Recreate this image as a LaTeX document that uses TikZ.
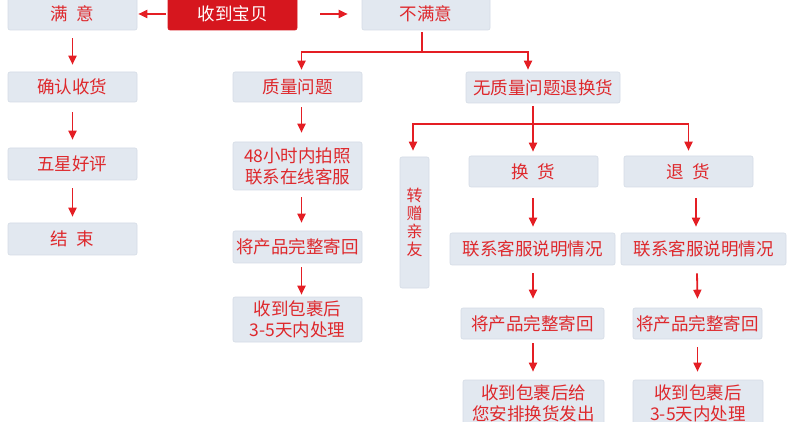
\documentclass[tikz,border=0pt]{standalone}
\usepackage{fontspec}
\newfontfamily\cjk{Noto Sans CJK SC}
\usetikzlibrary{arrows.meta,calc}
\definecolor{boxfill}{RGB}{226,232,240}
\definecolor{boxline}{RGB}{212,219,229}
\definecolor{txtred}{RGB}{222,40,44}
\definecolor{hdred}{RGB}{214,22,30}
\definecolor{arr}{RGB}{228,30,36}
\begin{document}
\begin{tikzpicture}[x=1pt,y=-1pt,
  box/.style={fill=boxfill, draw=boxline, line width=0.6pt, rounded corners=2pt,
    text=txtred, font=\cjk\fontsize{17.5}{21}\selectfont, inner sep=0pt,
    align=center, minimum width=#1},
  box/.default=129pt,
  hd/.style={box, fill=hdred, draw=hdred, text=white},
  arw/.style={draw=arr, line width=1.8pt, -{Triangle[width=8pt,length=9pt]}},
  lnk/.style={draw=arr, line width=1.8pt}
]
\useasboundingbox (0,0) rectangle (790,422);

\node[hd, minimum height=32pt] (shoudao) at (232.5,14) {收到宝贝};
\node[box, minimum height=32pt] (manyi) at (72.5,14) {满\hspace{0.5em}意};
\node[box=128pt, minimum height=32pt] (bumanyi) at (426,14) {不满意};
\node[box, minimum height=30pt] (queren) at (72.5,87) {确认收货};
\node[box, minimum height=32pt] (wuxing) at (72.5,164) {五星好评};
\node[box, minimum height=32pt] (jieshu) at (72.5,239) {结\hspace{0.5em}束};
\node[box, minimum height=30pt] (zhiliang) at (297.5,87) {质量问题};
\node[box=154pt, minimum height=31pt] (wuzl) at (543,87.5) {无质量问题退换货};
\node[box, minimum height=48pt] (pai) at (297.5,166) {48小时内拍照\\联系在线客服};
\node[box, minimum height=32pt] (jiang1) at (297.5,247) {将产品完整寄回};
\node[box, minimum height=45pt] (shou1) at (297.5,319.5) {收到包裹后\\3-5天内处理};
\node[box=29pt, minimum height=131pt, font=\cjk\fontsize{16}{18}\selectfont] (zhuan) at (414.5,222.5) {转\\赠\\亲\\友};
\node[box, minimum height=31pt] (huan) at (533.5,171.5) {换\hspace{0.5em}货};
\node[box, minimum height=31pt] (tui) at (688.5,171.5) {退\hspace{0.5em}货};
\node[box=165pt, minimum height=32pt] (lx1) at (532.5,249) {联系客服说明情况};
\node[box=165pt, minimum height=32pt] (lx2) at (703.5,249) {联系客服说明情况};
\node[box=143pt, minimum height=31pt] (jiang2) at (532.5,323.5) {将产品完整寄回};
\node[box, minimum height=31pt] (jiang3) at (697.5,323.5) {将产品完整寄回};
\node[box=141pt, minimum height=46pt] (shou2) at (533.5,403) {收到包裹后给\\您安排换货发出};
\node[box=130pt, minimum height=46pt] (shou3) at (698,403) {收到包裹后\\3-5天内处理};

% top row
\draw[arw] ([xshift=-2pt]shoudao.west) -- ([xshift=1pt]manyi.east);
\draw[arw] ([xshift=23pt]shoudao.east) -- ([xshift=-14pt]bumanyi.west);

% left column
\draw[arw] ([yshift=-8pt]manyi.south) -- ([yshift=7pt]queren.north);
\draw[arw] ([yshift=-10pt]queren.south) -- ([yshift=8pt]wuxing.north);
\draw[arw] ([yshift=-8pt]wuxing.south) -- ([yshift=6pt]jieshu.north);

% split from 不满意
\coordinate (j1) at ($(bumanyi.south)+(-4,22)$);
\draw[lnk] ([xshift=-4pt,yshift=-2pt]bumanyi.south) -- (j1);
\draw[arw] (j1) -| ([xshift=4pt,yshift=2pt]zhiliang.north);
\draw[arw] (j1) -| ([xshift=-15pt,yshift=2pt]wuzl.north);

% quality column
\draw[arw] ([xshift=4pt,yshift=-5pt]zhiliang.south) -- ([xshift=4pt,yshift=9pt]pai.north);
\draw[arw] ([xshift=4pt,yshift=-7pt]pai.south) -- ([xshift=4pt,yshift=8pt]jiang1.north);
\draw[arw] ([xshift=4pt,yshift=-4pt]jiang1.south) -- ([xshift=4pt,yshift=2pt]shou1.north);

% split from 无质量问题退换货
\coordinate (j2) at ($(wuzl.south)+(-10,21)$);
\draw[lnk] ([xshift=-10pt,yshift=-3pt]wuzl.south) -- (j2);
\draw[arw] (j2) -| ([xshift=-1.5pt,yshift=6pt]zhuan.north);
\draw[arw] (j2) -- ([xshift=-0.5pt,yshift=4pt]huan.north);
\draw[arw] (j2) -| ([yshift=5pt]tui.north);

% exchange column
\draw[arw] ([xshift=-0.5pt,yshift=-11pt]huan.south) -- ([xshift=0.5pt,yshift=6pt]lx1.north);
\draw[arw] ([xshift=0.5pt,yshift=-8pt]lx1.south) -- ([xshift=0.5pt,yshift=9pt]jiang2.north);
\draw[arw] ([xshift=0.5pt,yshift=-4pt]jiang2.south) -- ([xshift=-0.5pt,yshift=8pt]shou2.north);

% return column
\draw[arw] ([xshift=7.5pt,yshift=-11pt]tui.south) -- ([xshift=-7.5pt,yshift=6pt]lx2.north);
\draw[arw] ([xshift=-6.5pt,yshift=-8pt]lx2.south) -- ([yshift=9pt]jiang3.north);
\draw[arw] ([yshift=-8pt]jiang3.south) -- ([xshift=-0.5pt,yshift=8pt]shou3.north);
\end{tikzpicture}
\end{document}
